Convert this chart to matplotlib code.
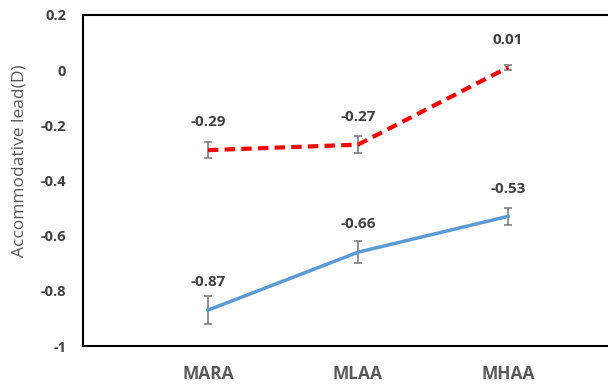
import matplotlib
matplotlib.use("Agg")
import matplotlib.pyplot as plt

categories = ["MARA", "MLAA", "MHAA"]
red_values = [-0.29, -0.27, 0.01]
red_errors = [0.03, 0.03, 0.01]
blue_values = [-0.87, -0.66, -0.53]
blue_errors = [0.05, 0.04, 0.03]
y_ticks = [0.2, 0, -0.2, -0.4, -0.6, -0.8, -1]
y_tick_labels = ["0.2", "0", "-0.2", "-0.4", "-0.6", "-0.8", "-1"]

plt.rcParams["font.family"] = ["Open Sans", "DejaVu Sans"]

fig = plt.figure(figsize=(6.08, 3.85), dpi=100)
ax = fig.add_axes([83 / 608, 1 - 346 / 385, (607 - 83) / 608, (346 - 15) / 385])

x = [1, 2, 3]
text_col = "#404040"
err_col = "#7f7f7f"

ax.errorbar(x, red_values, yerr=red_errors, color="#ff0000", lw=3,
            linestyle=(0, (2.5, 1.5)), ecolor=err_col, elinewidth=1.2,
            capsize=3, capthick=1.2, zorder=3)
ax.errorbar(x, blue_values, yerr=blue_errors, color="#5b9bd5", lw=2.5,
            ecolor=err_col, elinewidth=1.2, capsize=3, capthick=1.2, zorder=3)

for xi, v in zip(x, red_values):
    ax.annotate(f"{v:.2f}", (xi, v), xytext=(0, 20), textcoords="offset points",
                ha="center", va="center", fontsize=11, fontweight="bold",
                color=text_col)
for xi, v in zip(x, blue_values):
    ax.annotate(f"{v:.2f}", (xi, v), xytext=(0, 20), textcoords="offset points",
                ha="center", va="center", fontsize=11, fontweight="bold",
                color=text_col)

ax.set_xlim(0.167, 3.66)
ax.set_ylim(-1, 0.2)
ax.set_yticks(y_ticks)
ax.set_yticklabels(y_tick_labels, fontsize=10.5, fontweight="bold", color=text_col)
ax.tick_params(axis="y", length=0, pad=12)
ax.set_xticks(x)
ax.set_xticklabels(categories, fontsize=12.5, fontweight="bold", color="#595959")
ax.tick_params(axis="x", length=0, pad=14)

for s in ["left", "top", "bottom"]:
    ax.spines[s].set_linewidth(1.5)
    ax.spines[s].set_color("black")
ax.spines["right"].set_visible(False)

fig.text(20 / 608, 1 - 161 / 385, "Accommodative lead(D)", rotation=90,
         ha="center", va="center", fontsize=12.5, color="#595959")

fig.savefig("out.png", dpi=100)
